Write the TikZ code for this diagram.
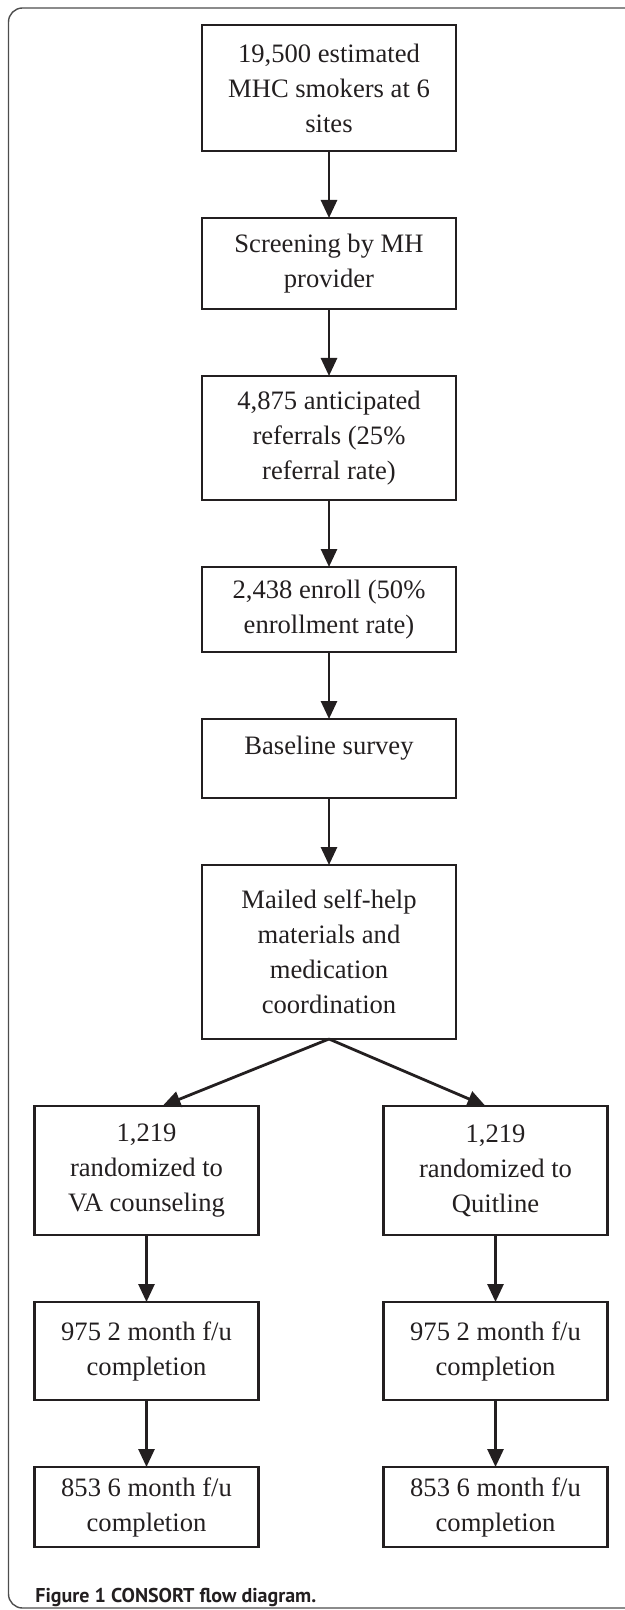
\documentclass[tikz,border=0pt]{standalone}
\usepackage{fontspec}
\setmainfont{Liberation Serif}
\newfontfamily\capfont{PT Sans}
\usepackage{tikz}
\usetikzlibrary{arrows.meta,positioning}
\definecolor{inkx}{HTML}{231F20}
\definecolor{rimx}{HTML}{4D4D4D}
\tikzset{
  stepbox/.style={draw=inkx,line width=1.15pt,align=center,inner sep=0pt,outer sep=0pt,text=inkx,font=\fontsize{13.3}{17.5}\selectfont},
  midbox/.style={stepbox,minimum width=127pt},
  sidebox/.style={stepbox,minimum width=112pt},
  ar/.style={-{Triangle[length=9pt,width=8pt]},line width=1.4pt,inkx},
  rim/.style={rimx,line width=0.7pt,rounded corners=7pt}
}
\begin{document}
\begin{tikzpicture}[x=0.5pt,y=-0.5pt,node distance=33.5pt]
\useasboundingbox (0,0) rectangle (625,1610);
\draw[rim] (625,8) -- (8.5,8) -- (8.5,1608) -- (625,1608);
% main column
\node[midbox,minimum height=63pt,anchor=north] (mhc) at (329,25) {19,500 estimated\\MHC smokers at 6\\sites};
\node[midbox,minimum height=45.5pt,below=of mhc] (screen) {Screening by MH\\provider};
\node[midbox,minimum height=62pt,below=of screen] (refer) {4,875 anticipated\\referrals (25\%\\referral rate)};
\node[midbox,minimum height=42.5pt,below=of refer] (enroll) {2,438 enroll (50\%\\enrollment rate)};
\node[midbox,minimum height=39.5pt,text depth=13pt,below=of enroll] (base) {Baseline survey};
\node[midbox,minimum height=87pt,below=of base] (mail) {Mailed self-help\\materials and\\medication\\coordination};
% two arms
\node[sidebox,minimum height=64.5pt,anchor=north] (va) at (146.5,1106) {1,219\\randomized to\\VA counseling};
\node[sidebox,minimum height=49pt,below=of va] (va2) {975 2 month f/u\\completion};
\node[sidebox,minimum height=40pt,below=of va2] (va6) {853 6 month f/u\\completion};
\node[sidebox,minimum height=64.5pt,anchor=north] (ql) at (495.5,1106) {1,219\\randomized to\\Quitline};
\node[sidebox,minimum height=49pt,below=of ql] (ql2) {975 2 month f/u\\completion};
\node[sidebox,minimum height=40pt,below=of ql2] (ql6) {853 6 month f/u\\completion};
% arrows
\draw[ar] (mhc) -- (screen);
\draw[ar] (screen) -- (refer);
\draw[ar] (refer) -- (enroll);
\draw[ar] (enroll) -- (base);
\draw[ar] (base) -- (mail);
\draw[ar] (mail.south) -- ([xshift=8pt]va.north);
\draw[ar] (mail.south) -- ([xshift=-5pt]ql.north);
\draw[ar] (va) -- (va2);
\draw[ar] (va2) -- (va6);
\draw[ar] (ql) -- (ql2);
\draw[ar] (ql2) -- (ql6);
\node[anchor=west,inner sep=0pt,text=inkx,font=\capfont\bfseries\fontsize{10}{12}\selectfont] (cap) at (35,1597) {Figure 1 CONSORT flow diagram.};
\end{tikzpicture}
\end{document}
